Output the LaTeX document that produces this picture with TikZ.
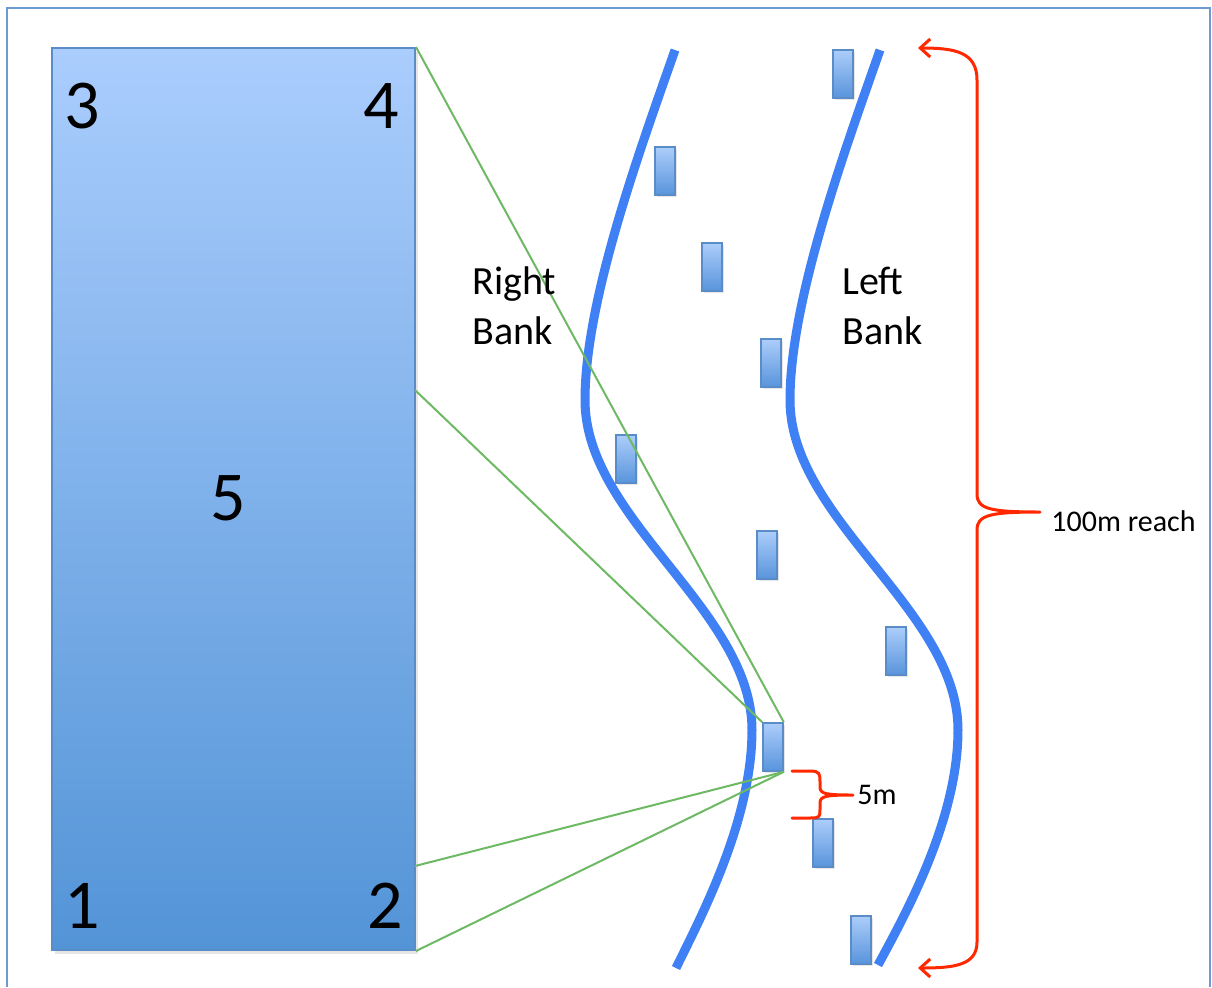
\documentclass[tikz,border=0pt]{standalone}
\usepackage{fontspec}
\setmainfont{Carlito}
\usetikzlibrary{arrows.meta,shadows}
\definecolor{frameblue}{RGB}{108,155,210}
\definecolor{bigtop}{RGB}{170,205,253}
\definecolor{bigbot}{RGB}{83,148,215}
\definecolor{boxedge}{RGB}{90,140,200}
\definecolor{boxtop}{RGB}{172,205,250}
\definecolor{boxbot}{RGB}{88,148,220}
\definecolor{riverblue}{RGB}{64,128,245}
\definecolor{braceRed}{RGB}{255,40,0}
\definecolor{sightgreen}{RGB}{110,185,100}
\tikzset{
  bigrect/.style={draw=boxedge, line width=1pt, top color=bigtop, bottom color=bigbot,
    minimum width=181.5pt, minimum height=451pt, inner sep=0pt,
    drop shadow={opacity=0.2, shadow xshift=1.5pt, shadow yshift=-2pt}},
  stone/.style={draw=boxedge, line width=0.8pt, top color=boxtop, bottom color=boxbot,
    minimum width=10pt, minimum height=24pt, inner sep=0pt,
    drop shadow={opacity=0.2, shadow xshift=1pt, shadow yshift=-1.2pt}},
  digit/.style={inner sep=0pt, font=\fontsize{35}{42}\selectfont},
  banklabel/.style={inner sep=0pt, anchor=west, align=left, font=\fontsize{20}{25}\selectfont},
  smalllabel/.style={inner sep=0pt, anchor=west, font=\fontsize{15}{18}\selectfont},
  river/.style={draw=riverblue, line width=4.5pt},
  sight/.style={draw=sightgreen, line width=1pt},
  bracket/.style={draw=braceRed, line width=1.5pt, line cap=round, line join=round},
}
\begin{document}
\begin{tikzpicture}[x=0.5pt,y=-0.5pt]
\useasboundingbox (0,0) rectangle (1212,987);
\fill[white] (0,0) rectangle (1212,987);
% outer frame
\draw[frameblue, line width=0.8pt] (7,987) -- (7,8) -- (1210,8) -- (1210,987);

% rivers
\draw[river] (675,50) .. controls (640,150) and (585,300) .. (585,400)
  .. controls (585,520) and (752,610) .. (752,730)
  .. controls (752,820) and (702,915) .. (676,968);
\draw[river] (880,50) .. controls (845,150) and (790,300) .. (790,400)
  .. controls (790,520) and (958,610) .. (958,730)
  .. controls (958,820) and (905,915) .. (878,965);

% big rectangle
\node[bigrect] (big) at (233.5,499) {};
\node[digit] (n3) at (82,106) {3};
\node[digit] (n4) at (381,106) {4};
\node[digit] (n1) at (82,906) {1};
\node[digit] (n2) at (385,906) {2};
\node[digit] (n5) at (228,498) {5};

% stones
\node[stone] (s1) at (843,74) {};
\node[stone] (s2) at (665,171) {};
\node[stone] (s3) at (712,267) {};
\node[stone] (s4) at (771,363) {};
\node[stone] (s5) at (626,459) {};
\node[stone] (s6) at (767,555) {};
\node[stone] (s7) at (896,651) {};
\node[stone] (s8) at (773,747) {};
\node[stone] (s9) at (823,843) {};
\node[stone] (s10) at (861,940) {};

% sight lines
\coordinate (gmid) at (415,390);
\coordinate (glow) at (415,866);
\draw[sight] (big.north east) -- (s8.north east);
\draw[sight] (gmid) -- (s8.north west);
\draw[sight] (glow) -- (s8.south east);
\draw[sight] (big.south east) -- (s8.south east);

% labels
\node[banklabel] (rb) at (472,306) {Right\\Bank};
\node[banklabel] (lb) at (842,306) {Left\\Bank};

% big bracket
\coordinate (bt) at (918,48);
\coordinate (bb) at (918,968);
\coordinate (btip) at (1040,512);
\draw[bracket, {Straight Barb[length=5pt,width=9pt]}-{Straight Barb[length=5pt,width=9pt]}]
  (bt) .. controls (955,48) and (977,52) .. (977,80) -- (977,494)
  .. controls (977,509) and (990,512) .. (btip)
  .. controls (990,512) and (977,515) .. (977,530) -- (977,942)
  .. controls (977,965) and (955,968) .. (bb);
\node[smalllabel] (reach) at (1051,521) {100m reach};

% small bracket
\coordinate (st) at (792,771);
\coordinate (sb) at (792,818);
\coordinate (stip) at (853,795);
\draw[bracket] (st) -- (810,771) .. controls (820,771) and (820,774) .. (820,782) -- (820,787)
  .. controls (820,794) and (826,795) .. (stip)
  .. controls (826,795) and (820,796) .. (820,803) -- (820,809)
  .. controls (820,817) and (820,818) .. (810,818) -- (sb);
\node[smalllabel] (five) at (857,795) {5m};
\end{tikzpicture}
\end{document}
